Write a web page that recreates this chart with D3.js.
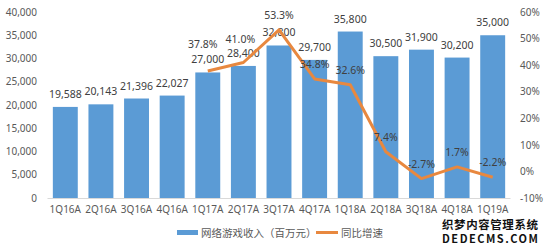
<!DOCTYPE html>
<meta charset="utf-8">
<style>
body { margin: 0; background: #fff; }
text { font-family: "Noto Sans", "Noto Sans CJK SC", sans-serif; }
.tick text { fill: #595959; font-size: 10px; }
.bar { fill: #5b9bd5; }
.growth { fill: none; stroke: #e8883f; stroke-width: 3; stroke-linejoin: round; }
.bar-label, .pct-label { fill: #404040; font-size: 10.5px; text-anchor: middle; }
.legend text { fill: #595959; font-size: 10.5px; font-family: "Noto Sans CJK SC", sans-serif; }
.wm { font-family: "Noto Sans CJK SC", sans-serif; font-weight: bold; fill: #111; stroke: #fff; stroke-width: 2.5px; paint-order: stroke; }
</style>
<svg width="550" height="250"></svg>
<script src="https://d3js.org/d3.v7.min.js"></script>
<script>

var quarters = ["1Q16A","2Q16A","3Q16A","4Q16A","1Q17A","2Q17A","3Q17A","4Q17A","1Q18A","2Q18A","3Q18A","4Q18A","1Q19A"];
var revenue = [19588, 20143, 21396, 22027, 27000, 28400, 32800, 29700, 35800, 30500, 31900, 30200, 35000];
var growthQuarters = ["1Q17A","2Q17A","3Q17A","4Q17A","1Q18A","2Q18A","3Q18A","4Q18A","1Q19A"];
var growth = [37.8, 41.0, 53.3, 34.8, 32.6, 7.4, -2.7, 1.7, -2.2];
var leftTicks = [0, 5000, 10000, 15000, 20000, 25000, 30000, 35000, 40000];
var rightTicks = [-10, 0, 10, 20, 30, 40, 50, 60];

var svg = d3.select("svg");

var x = d3.scaleBand().domain(quarters).range([47.5, 510.5]).paddingInner(0.3).paddingOuter(0.15);
var y = d3.scaleLinear().domain([0, 40000]).range([198, 12]);
var y2 = d3.scaleLinear().domain([-10, 60]).range([198, 12]);

// left axis
var yAxis = svg.append("g").attr("transform", "translate(37,0)")
  .call(d3.axisLeft(y).tickValues(leftTicks).tickSize(0).tickPadding(0).tickFormat(d3.format(",")));
yAxis.select(".domain").remove();

// right axis
var y2Axis = svg.append("g").attr("transform", "translate(520,0)")
  .call(d3.axisRight(y2).tickValues(rightTicks).tickSize(0).tickPadding(0).tickFormat(function(d) { return d + "%"; }));
y2Axis.select(".domain").remove();

// bars
svg.append("g").selectAll("rect")
  .data(revenue)
  .enter().append("rect")
  .attr("class", "bar")
  .attr("x", function(d, i) { return x(quarters[i]); })
  .attr("width", x.bandwidth())
  .attr("y", function(d) { return y(d); })
  .attr("height", function(d) { return y(0) - y(d); });

// baseline + category axis
var xAxis = svg.append("g").attr("transform", "translate(0,198)")
  .call(d3.axisBottom(x).tickSize(0).tickPadding(8));
xAxis.select(".domain").attr("stroke", "#d9d9d9").attr("d", "M47.5,0.5H510.5");

svg.append("g").selectAll("text")
  .data(revenue)
  .enter().append("text")
  .attr("class", "bar-label")
  .attr("x", function(d, i) { return x(quarters[i]) + x.bandwidth() / 2; })
  .attr("y", function(d) { return y(d) - 9; })
  .text(d3.format(","));

// growth line
var cx = function(q) { return x(q) + x.bandwidth() / 2; };
var line = d3.line()
  .x(function(d, i) { return cx(growthQuarters[i]); })
  .y(function(d) { return y2(d); });

svg.append("path").datum(growth).attr("class", "growth").attr("d", line);

// first two labels sit higher so they clear the bar values
var lift = [23, 19, 11, 11, 11, 11, 11, 11, 11];
var shift = [-5, -3, 0, 0, 0, 0, 0, 0, 0];
svg.append("g").selectAll("text")
  .data(growth)
  .enter().append("text")
  .attr("class", "pct-label")
  .attr("x", function(d, i) { return cx(growthQuarters[i]) + shift[i]; })
  .attr("y", function(d, i) { return y2(d) - lift[i]; })
  .text(function(d) { return d.toFixed(1) + "%"; });

// legend
var legend = svg.append("g").attr("class", "legend");
legend.append("rect").attr("x", 177).attr("y", 230).attr("width", 21).attr("height", 5).attr("fill", "#5b9bd5");
legend.append("text").attr("x", 201).attr("y", 237).text("网络游戏收入（百万元）");
legend.append("line").attr("x1", 316).attr("x2", 338).attr("y1", 232.5).attr("y2", 232.5)
  .attr("stroke", "#e8883f").attr("stroke-width", 3);
legend.append("text").attr("x", 341).attr("y", 237).text("同比增速");

// watermark
svg.append("text").attr("class", "wm").attr("x", 442).attr("y", 228.5).attr("font-size", 11.5)
  .attr("textLength", 96).text("织梦内容管理系统");
svg.append("text").attr("class", "wm").attr("x", 442).attr("y", 242.5).attr("font-size", 11)
  .attr("textLength", 96).text("DEDECMS.COM");

</script>
